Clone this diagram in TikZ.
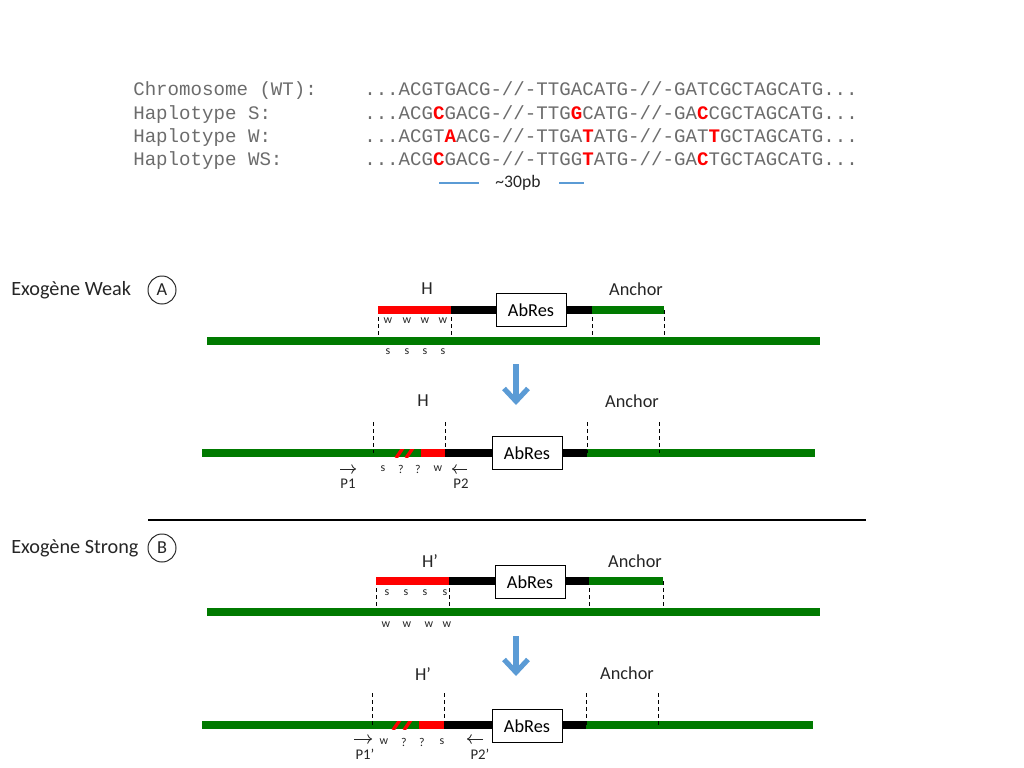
\documentclass[tikz,border=0pt]{standalone}
\usepackage{fontspec}
\setmainfont{Carlito}
\setmonofont{Liberation Mono}
\usepackage{xcolor}
\usetikzlibrary{arrows.meta}
\definecolor{dnagreen}{RGB}{0,122,0}
\definecolor{snpred}{RGB}{255,0,0}
\definecolor{stepblue}{RGB}{91,155,213}
\definecolor{seqgray}{RGB}{108,108,108}
\definecolor{labelgray}{RGB}{38,38,38}
\newcommand{\snp}[1]{\textcolor{snpred}{\bfseries #1}}
\tikzset{%
  >={To[width=2.4mm,length=1.2mm]},
  % Specifications for style of nodes:
  seqname/.style = {anchor=base west, inner sep=0pt, text=seqgray,
    font=\ttfamily\fontsize{13.6}{16}\selectfont},
  seqline/.style = {seqname},
  partlabel/.style = {inner sep=0pt, text=labelgray,
    font=\fontsize{13}{15}\selectfont},
  exolabel/.style = {anchor=west, inner sep=0pt, text=labelgray,
    font=\fontsize{14.4}{17}\selectfont},
  panel/.style = {circle, draw=labelgray, line width=0.7pt,
    minimum size=0.7cm, inner sep=0pt, text=labelgray,
    font=\fontsize{13}{15}\selectfont},
  allele/.style = {inner sep=0pt, text=labelgray,
    font=\fontsize{8.5}{10}\selectfont},
  primer/.style = {inner sep=0pt, text=labelgray,
    font=\fontsize{10.5}{12}\selectfont},
  abres/.style = {rectangle, draw=black, fill=white, line width=0.7pt,
    minimum width=1.75cm, minimum height=0.82cm, inner sep=0pt,
    font=\fontsize{13}{15}\selectfont},
  % Specifications for style of bars and lines:
  chromo/.style = {draw=dnagreen, line width=5.7pt},
  hbar/.style = {draw=snpred, line width=5.7pt},
  linker/.style = {draw=black, line width=5.7pt},
  boundary/.style = {densely dashed, line width=0.45pt},
  stripe/.style = {draw=snpred, line width=2.4pt},
  primerarrow/.style = {->, line width=0.6pt, draw=labelgray},
  recomb/.style = {-{Straight Barb[length=3.2mm,width=6mm]},
    draw=stepblue, line width=3.6pt},
}

\begin{document}
\begin{tikzpicture}[x=0.025cm, y=-0.025cm]
  \fill[white] (0,0) rectangle (1024,768);
  \useasboundingbox (0,0) rectangle (1024,768);

  % Haplotypes
  \node(nWT)[seqname] at (133,96) {Chromosome (WT):};
  \node(nS)[seqname] at (133,120) {Haplotype S:};
  \node(nW)[seqname] at (133,143) {Haplotype W:};
  \node(nWS)[seqname] at (133,166) {Haplotype WS:};
  \node(sWT)[seqline] at (364,96) {...ACGTGACG-//-TTGACATG-//-GATCGCTAGCATG...};
  \node(sS)[seqline] at (364,120) {...ACG\snp{C}GACG-//-TTG\snp{G}CATG-//-GA\snp{C}CGCTAGCATG...};
  \node(sW)[seqline] at (364,143) {...ACGT\snp{A}ACG-//-TTGA\snp{T}ATG-//-GAT\snp{T}GCTAGCATG...};
  \node(sWS)[seqline] at (364,166) {...ACG\snp{C}GACG-//-TTGG\snp{T}ATG-//-GA\snp{C}TGCTAGCATG...};
  \node(span)[partlabel, font=\fontsize{12.5}{14}\selectfont] at (518,183) {\textasciitilde30pb};
  \coordinate (spanL1) at (439,183);
  \coordinate (spanL2) at (479,183);
  \coordinate (spanR1) at (559,183);
  \coordinate (spanR2) at (584,183);
  \draw[stepblue, line width=0.8pt] (spanL1) -- (spanL2);
  \draw[stepblue, line width=0.8pt] (spanR1) -- (spanR2);

  % Exogene Weak (A)
  \node(exoW)[exolabel] at (11,290) {Exogène Weak};
  \node(panelA)[panel] at (162,290) {A};
  \coordinate (hA1) at (378,310);
  \coordinate (hA2) at (451,310);
  \coordinate (anA1) at (592,310);
  \coordinate (anA2) at (664,310);
  \coordinate (chrA1) at (207,341);
  \coordinate (chrA2) at (820,341);
  \foreach \c in {hA1,hA2,anA1,anA2}
    \draw[boundary] (\c) -- (\c |- chrA1);
  \draw[linker] (hA2) -- (anA1);
  \draw[hbar] (hA1) -- (hA2);
  \draw[chromo] (anA1) -- (anA2);
  \draw[chromo] (chrA1) -- (chrA2);
  \node(abA)[abres] at (531,310) {AbRes};
  \node(hlabA)[partlabel] at (427,289) {H};
  \node(anlabA)[partlabel] at (636,289) {Anchor};
  \foreach \x in {388,407,425,443} {
    \node(wA\x)[allele] at (\x,321) {w};
    \node(sA\x)[allele] at (\x,352) {s};
  }
  \coordinate (stepA1) at (516,364);
  \coordinate (stepA2) at (516,405);
  \draw[recomb] (stepA1) -- (stepA2);

  % recombinant A
  \coordinate (rA1) at (202,453);
  \coordinate (rA2) at (815,453);
  \coordinate (rAh) at (421,453);
  \coordinate (rAb1) at (445,453);
  \coordinate (rAb2) at (587,453);
  \draw[chromo] (rA1) -- (rA2);
  \begin{scope}
    \clip (392,449) rectangle (421,457);
    \foreach \x in {396,406}
      \draw[stripe] (\x,458) -- (\x+7,448);
  \end{scope}
  \draw[hbar] (rAh) -- (rAb1);
  \draw[linker] (rAb1) -- (rAb2);
  \foreach \x in {373,445,587,659}
    \draw[boundary] (\x,422) -- (\x,453);
  \node(abRA)[abres] at (527,453) {AbRes};
  \node(hlabRA)[partlabel] at (423,401) {H};
  \node(anlabRA)[partlabel] at (632,401) {Anchor};
  \node(aRA1)[allele] at (383,469) {s};
  \node(aRA2)[allele] at (401,469) {?};
  \node(aRA3)[allele] at (418,469) {?};
  \node(aRA4)[allele] at (438,469) {w};
  \coordinate (p1a) at (340,469);
  \coordinate (p1b) at (356,469);
  \coordinate (p2a) at (467,469);
  \coordinate (p2b) at (452,469);
  \draw[primerarrow] (p1a) -- (p1b);
  \draw[primerarrow] (p2a) -- (p2b);
  \node(P1)[primer] at (348,484) {P1};
  \node(P2)[primer] at (461,484) {P2};

  % separation
  \coordinate (sepL) at (148,520);
  \coordinate (sepR) at (866,520);
  \draw[line width=0.8pt] (sepL) -- (sepR);

  % Exogene Strong (B)
  \node(exoS)[exolabel] at (11,548) {Exogène Strong};
  \node(panelB)[panel] at (162,548) {B};
  \coordinate (hB1) at (376,581);
  \coordinate (hB2) at (449,581);
  \coordinate (anB1) at (589,581);
  \coordinate (anB2) at (663,581);
  \coordinate (chrB1) at (207,612);
  \coordinate (chrB2) at (820,612);
  \foreach \c in {hB1,hB2,anB1,anB2}
    \draw[boundary] (\c) -- (\c |- chrB1);
  \draw[linker] (hB2) -- (anB1);
  \draw[hbar] (hB1) -- (hB2);
  \draw[chromo] (anB1) -- (anB2);
  \draw[chromo] (chrB1) -- (chrB2);
  \node(abB)[abres] at (530,582) {AbRes};
  \node(hlabB)[partlabel] at (430,561) {H’};
  \node(anlabB)[partlabel] at (635,561) {Anchor};
  \foreach \x/\y in {387/386,406/407,425/429,445/447} {
    \node(sB\x)[allele] at (\x,593) {s};
    \node(wB\y)[allele] at (\y,625) {w};
  }
  \coordinate (stepB1) at (516,636);
  \coordinate (stepB2) at (516,676);
  \draw[recomb] (stepB1) -- (stepB2);

  % recombinant B
  \coordinate (rB1) at (202,725);
  \coordinate (rB2) at (813,725);
  \coordinate (rBh) at (419,725);
  \coordinate (rBb1) at (444,725);
  \coordinate (rBb2) at (586,725);
  \draw[chromo] (rB1) -- (rB2);
  \begin{scope}
    \clip (390,721) rectangle (419,729);
    \foreach \x in {393,404}
      \draw[stripe] (\x,730) -- (\x+7,720);
  \end{scope}
  \draw[hbar] (rBh) -- (rBb1);
  \draw[linker] (rBb1) -- (rBb2);
  \foreach \x in {372,444,586,658}
    \draw[boundary] (\x,693) -- (\x,725);
  \node(abRB)[abres] at (527,726) {AbRes};
  \node(hlabRB)[partlabel] at (423,674) {H’};
  \node(anlabRB)[partlabel] at (627,673) {Anchor};
  \node(aRB1)[allele] at (384,742) {w};
  \node(aRB2)[allele] at (404,742) {?};
  \node(aRB3)[allele] at (422,742) {?};
  \node(aRB4)[allele] at (442,742) {s};
  \coordinate (p1pa) at (354,739);
  \coordinate (p1pb) at (372,739);
  \coordinate (p2pa) at (483,739);
  \coordinate (p2pb) at (467,739);
  \draw[primerarrow] (p1pa) -- (p1pb);
  \draw[primerarrow] (p2pa) -- (p2pb);
  \node(P1p)[primer] at (365,754) {P1’};
  \node(P2p)[primer] at (480,754) {P2’};
\end{tikzpicture}
\end{document}
